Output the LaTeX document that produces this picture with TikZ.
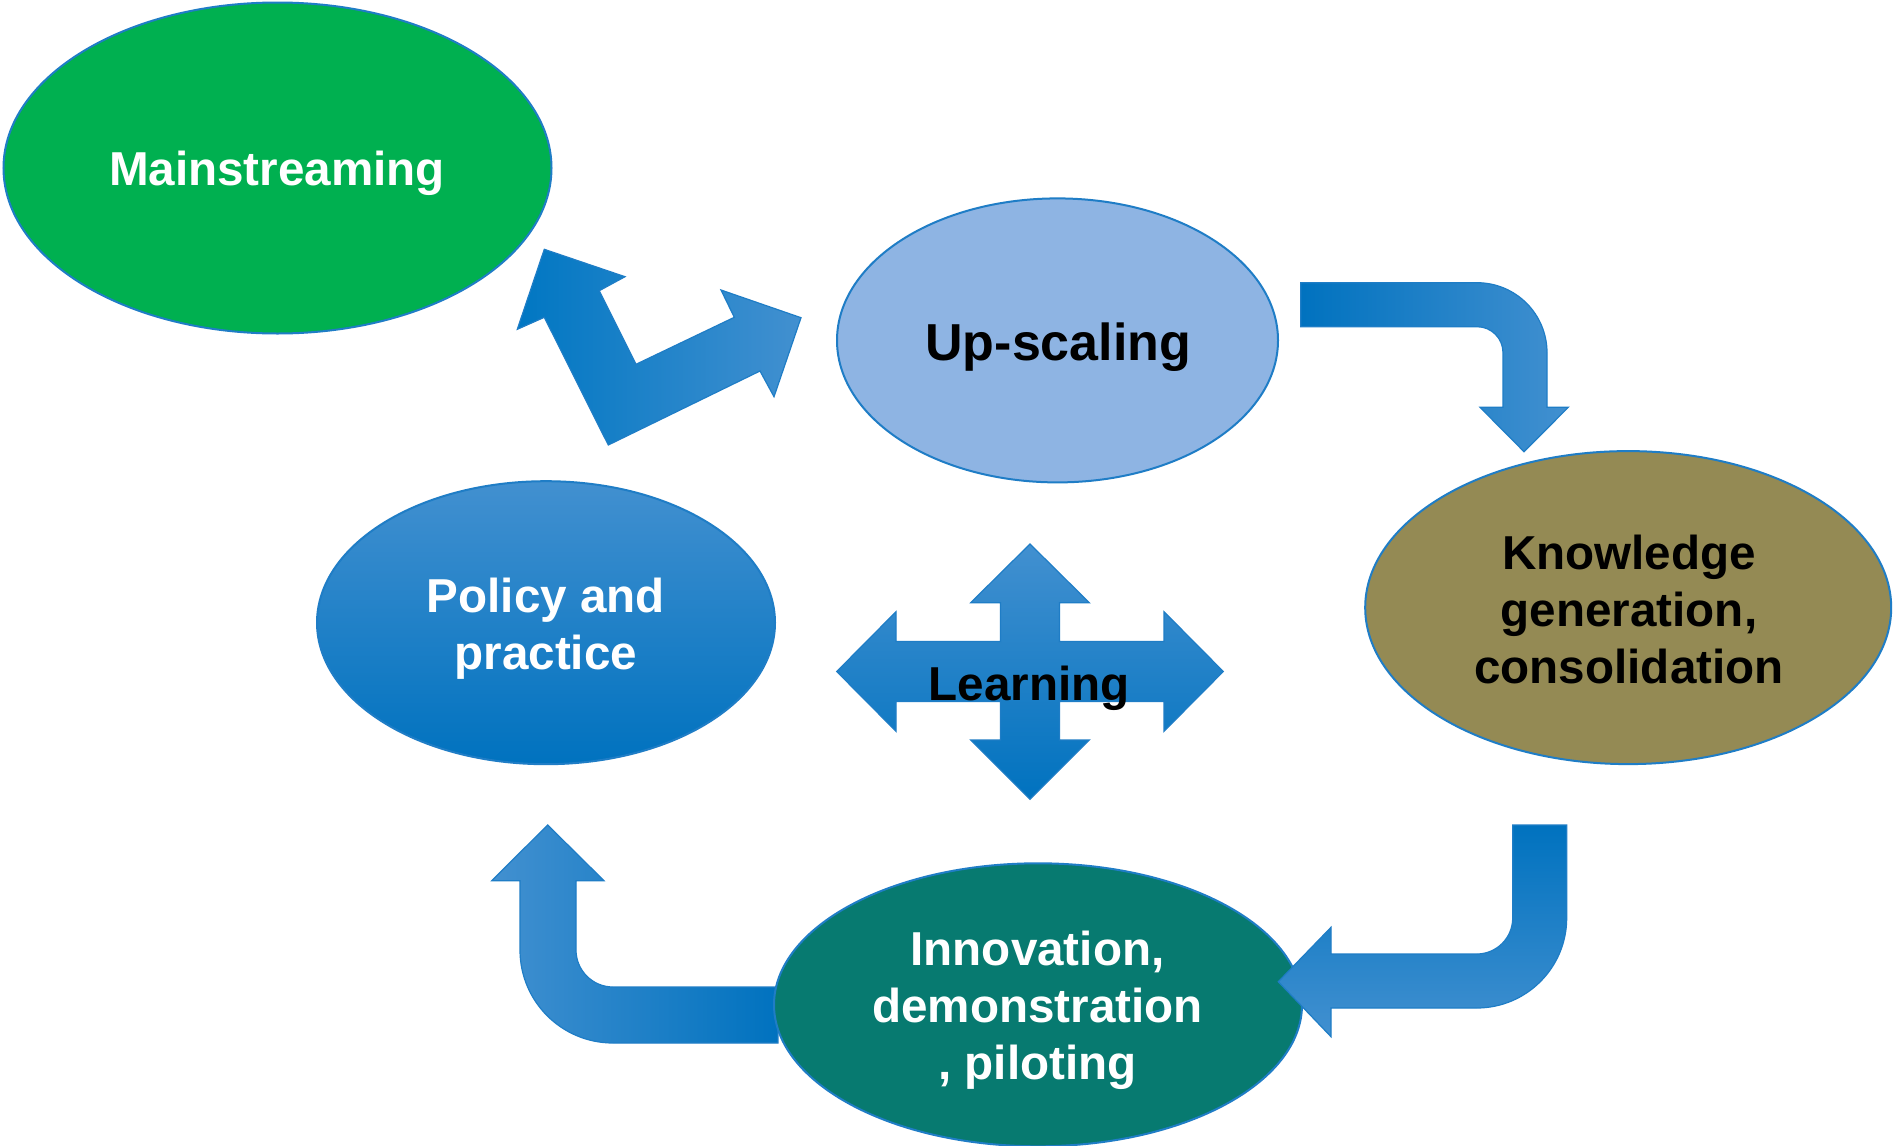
\documentclass[tikz,border=0pt]{standalone}
\usepackage{fontspec}
\setmainfont{Liberation Sans}
\usetikzlibrary{shapes.geometric}
\definecolor{edgeblue}{HTML}{1F7DC6}
\definecolor{msgreen}{HTML}{00B050}
\definecolor{uplight}{HTML}{8EB4E3}
\definecolor{olivefill}{HTML}{948A54}
\definecolor{innteal}{HTML}{077A70}
\definecolor{adark}{HTML}{0072BF}
\definecolor{amid}{HTML}{0082CB}
\definecolor{alight}{HTML}{4290D0}
\begin{document}
\begin{tikzpicture}[x=1pt,y=-1pt,
  bubble/.style={ellipse, draw=edgeblue, line width=2pt, inner sep=0pt, outer sep=0pt},
  arrowshape/.style={draw=edgeblue, line width=1.2pt, line join=miter},
  txt/.style={font=\fontsize{47.6}{57}\selectfont\bfseries, align=center, anchor=base, inner sep=0pt}]
\useasboundingbox[fill=white] (0,0) rectangle (1896,1146);

% ellipses
\node[bubble, fill=msgreen, minimum width=548pt, minimum height=331pt] (ms) at (277.5,168) {};
\node[bubble, fill=uplight, minimum width=441pt, minimum height=284pt] (up) at (1057.5,340.4) {};
\node[bubble, top color=alight, middle color=amid, bottom color=adark, minimum width=458pt, minimum height=283pt] (pol) at (546,622.7) {};
\node[bubble, fill=olivefill, minimum width=526pt, minimum height=313pt] (kn) at (1628.2,607.6) {};

% bottom-left bent arrow (to Policy and practice)
\path[arrowshape, left color=alight, middle color=amid, right color=adark]
  (547.7,825) -- (604,880.7) -- (576,880.7) -- (576,950)
  .. controls (576,970.4) and (592.6,987) .. (613,987) -- (778,987) -- (778,1043) -- (613,1043)
  .. controls (561.6,1043) and (520,1001.4) .. (520,950) -- (520,880.7) -- (491.7,880.7) -- cycle;

\node[bubble, fill=innteal, minimum width=528pt, minimum height=283pt] (inn) at (1038,1004.8) {};

% bottom-right bent arrow (to Innovation)
\path[arrowshape, top color=adark, middle color=amid, bottom color=alight]
  (1512.7,825) -- (1566.7,825) -- (1566.7,918)
  .. controls (1566.7,967.7) and (1526.4,1008) .. (1476.7,1008) -- (1331,1008) -- (1331,1036.7)
  -- (1278.3,981.7) -- (1331,927.3) -- (1331,954) -- (1476.7,954)
  .. controls (1496.6,954) and (1512.7,937.9) .. (1512.7,918) -- cycle;

% top-right bent arrow (to Knowledge)
\path[arrowshape, left color=adark, middle color=amid, right color=alight]
  (1300.7,282.7) -- (1477,282.7)
  .. controls (1515.7,282.7) and (1547,314) .. (1547,352.7) -- (1547,407.3) -- (1568.3,407.3)
  -- (1524,451.7) -- (1480,407.3) -- (1503,407.3) -- (1503,352.7)
  .. controls (1503,338.3) and (1491.4,326.7) .. (1477,326.7) -- (1300.7,326.7) -- cycle;

% L-shaped double arrow (Up-scaling -> Mainstreaming)
\path[arrowshape, left color=adark!70!amid, middle color=amid, right color=alight]
  (544.3,249.3) -- (625,276.7) -- (599.3,290.7) -- (636,364.3) -- (734.3,317.3) -- (721,290)
  -- (801,317.7) -- (774,396.7) -- (760,371) -- (608.3,445) -- (544.3,317.3) -- (517.3,329.3) -- cycle;

% Learning cross
\path[arrowshape, top color=alight, middle color=amid, bottom color=adark]
  (1030,544) -- (1089.3,602.7) -- (1059.5,602.7) -- (1059.5,641.5) -- (1164,641.5) -- (1164,611.7)
  -- (1223.3,671.5) -- (1164,731.3) -- (1164,701.5) -- (1059.5,701.5) -- (1059.5,740) -- (1089.3,740)
  -- (1030,799.3) -- (970.7,740) -- (1000.5,740) -- (1000.5,701.5) -- (896,701.5) -- (896,731.3)
  -- (836.7,671.5) -- (896,611.7) -- (896,641.5) -- (1000.5,641.5) -- (1000.5,602.7) -- (970.7,602.7) -- cycle;

% texts (anchor=base is the baseline of the last line)
\node[txt, white] (mst) at (277,185) {Mainstreaming};
\node[txt, font=\fontsize{52}{60}\selectfont\bfseries] (upt) at (1058.3,360) {Up-scaling};
\node[txt, white] (polt) at (545.8,669.3) {Policy and\\practice};
\node[txt] (knt) at (1629,683) {Knowledge\\generation,\\consolidation};
\node[txt, white] (innt) at (1037.5,1079) {Innovation,\\demonstration\\, piloting};
\node[txt] (learn) at (1029,700.7) {Learning};
\end{tikzpicture}
\end{document}
